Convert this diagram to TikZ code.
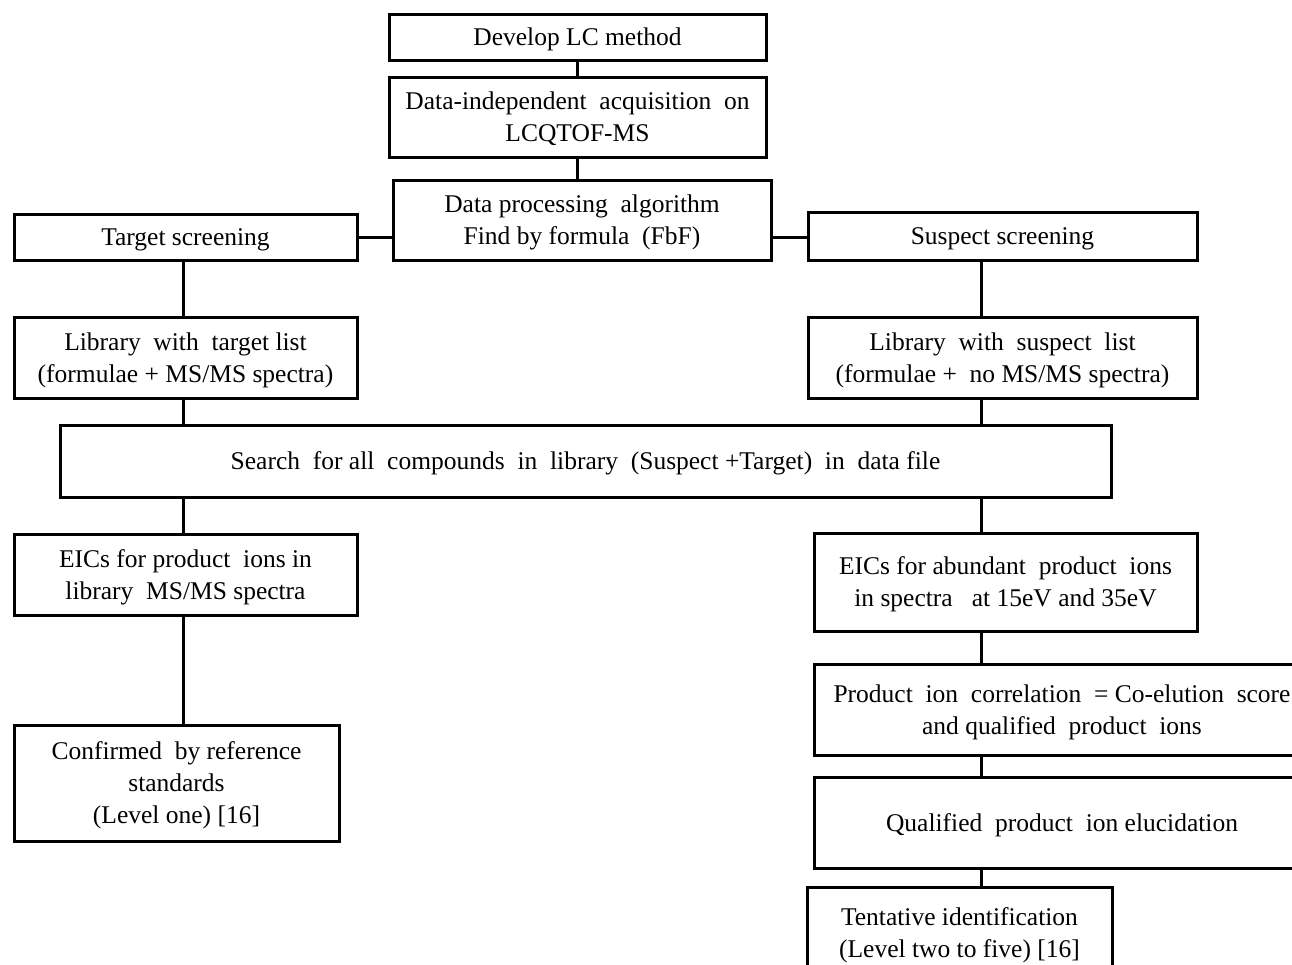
\documentclass[tikz,border=0pt]{standalone}
\usepackage{fontspec}
\setmainfont{Liberation Serif}
\begin{document}
\begin{tikzpicture}[x=1pt,y=-1pt,
  box/.style={draw=black,line width=3pt,rectangle,inner sep=0pt,align=center,
    text depth=0pt,font=\fontsize{25.5}{32}\selectfont},
  link/.style={draw=black,line width=3pt}]
\useasboundingbox (0,0) rectangle (1292,964);
\clip (0,0) rectangle (1292,964);
\fill[white] (0,0) rectangle (1292,964);
\coordinate (colL) at (183,0);
\coordinate (colR) at (981,0);
\coordinate (colM) at (577,0);
\coordinate (rowH) at (0,237);
\node[box,minimum width=377,minimum height=46] (dev) at (577.5,37) {Develop LC method};
\node[box,minimum width=377,minimum height=80] (dia) at (577.5,117) {Data-independent\ \ acquisition\ \ on\\LCQTOF-MS};
\node[box,minimum width=378,minimum height=80] (dpa) at (582,220) {Data processing\ \ algorithm\\Find by formula\ \ (FbF)};
\node[box,minimum width=343,minimum height=46] (ts) at (185.5,237) {Target screening};
\node[box,minimum width=389,minimum height=48] (ss) at (1002.5,236) {Suspect screening};
\node[box,minimum width=343,minimum height=81] (lt) at (185.5,357.5) {Library\ \ with\ \ target list\\(formulae + MS/MS spectra)};
\node[box,minimum width=389,minimum height=81] (ls) at (1002.5,357.5) {Library\ \ with\ \ suspect\ \ list\\(formulae +\ \ no MS/MS spectra)};
\node[box,minimum width=1051,minimum height=72] (srch) at (585.5,461) {Search\ \ for all\ \ compounds\ \ in\ \ library\ \ (Suspect +Target)\ \ in\ \ data file};
\node[box,minimum width=343,minimum height=81] (et) at (185.5,574.5) {EICs for product\ \ ions in\\library\ \ MS/MS spectra};
\node[box,minimum width=383,minimum height=98] (ea) at (1005.5,582) {EICs for abundant\ \ product\ \ ions\\in spectra\ \ \ at 15eV and 35eV};
\node[box,minimum width=325,minimum height=116] (conf) at (176.5,783) {Confirmed\ \ by reference\\standards\\(Level one) [16]};
\node[box,minimum width=496,minimum height=91] (corr) at (1062,710) {Product\ \ ion\ \ correlation\ \ = Co-elution\ \ score\\and qualified\ \ product\ \ ions};
\node[box,minimum width=496,minimum height=91] (qual) at (1062,822.5) {Qualified\ \ product\ \ ion elucidation};
\node[box,minimum width=305,minimum height=92] (tent) at (959.5,933) {Tentative identification\\(Level two to five) [16]};
% connectors
\draw[link] (dev.south -| colM) -- (dia.north -| colM);
\draw[link] (dia.south -| colM) -- (dpa.north -| colM);
\draw[link] (ts.east |- rowH) -- (dpa.west |- rowH);
\draw[link] (dpa.east |- rowH) -- (ss.west |- rowH);
\draw[link] (ts.south -| colL) -- (lt.north -| colL);
\draw[link] (lt.south -| colL) -- (srch.north -| colL);
\draw[link] (srch.south -| colL) -- (et.north -| colL);
\draw[link] (et.south -| colL) -- (conf.north -| colL);
\draw[link] (ss.south -| colR) -- (ls.north -| colR);
\draw[link] (ls.south -| colR) -- (srch.north -| colR);
\draw[link] (srch.south -| colR) -- (ea.north -| colR);
\draw[link] (ea.south -| colR) -- (corr.north -| colR);
\draw[link] (corr.south -| colR) -- (qual.north -| colR);
\draw[link] (qual.south -| colR) -- (tent.north -| colR);
\end{tikzpicture}
\end{document}
